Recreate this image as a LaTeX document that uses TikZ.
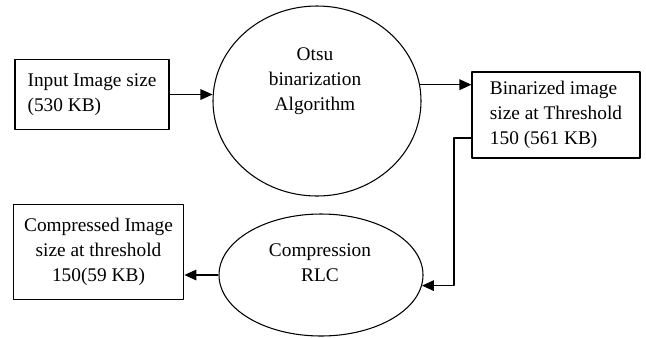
\documentclass[tikz,border=0pt]{standalone}
\usepackage{fontspec}
\setmainfont{Liberation Serif}
\usetikzlibrary{arrows.meta,shapes.geometric}
\tikzset{
  every picture/.style={line join=round, >={Triangle[length=9pt,width=8pt]}},
  box/.style={draw, line width=0.8pt, rectangle, inner sep=0pt},
  stage/.style={draw, line width=0.8pt, ellipse, inner sep=0pt},
  txt/.style={font=\fontsize{14.5}{18.8}\selectfont, align=center, inner sep=0pt},
  link/.style={->, line width=0.8pt},
}

\begin{document}
\begin{tikzpicture}[x=0.75pt,y=-0.75pt]
\useasboundingbox(0,0)rectangle(646,337);
% boxes
\node[box,txt,align=left,minimum width=115.5pt,minimum height=53pt](input)at(92,94.5){Input Image size\\(530 KB)};
\node[box,txt,align=left,minimum width=126pt,minimum height=64.5pt](binar)at(556,115){Binarized image\\size at Threshold\\150 (561 KB)};
\node[box,txt,minimum width=128pt,minimum height=71pt](result)at(98.5,252){Compressed Image\\size at threshold\\150(59 KB)};
% ellipses
\node[stage,minimum width=156pt,minimum height=142.5pt](otsu)at(317,101){};
\node[txt](otsutxt)at(315,81){Otsu\\binarization\\Algorithm};
\node[stage,minimum width=153pt,minimum height=91.5pt](rlc)at(321,275){};
\node[txt](rlctxt)at(320,263){Compression\\RLC};
% links
\coordinate(turn)at(454,138);
\draw[link](input.east)--(input.east-|otsu.west);
\draw[link](otsu.9)--(otsu.9-|binar.west);
\draw[link](binar.west|-turn)--(turn)|-(rlc.-6);
\draw[link](rlc.west)--(rlc.west-|result.east);
\end{tikzpicture}
\end{document}
